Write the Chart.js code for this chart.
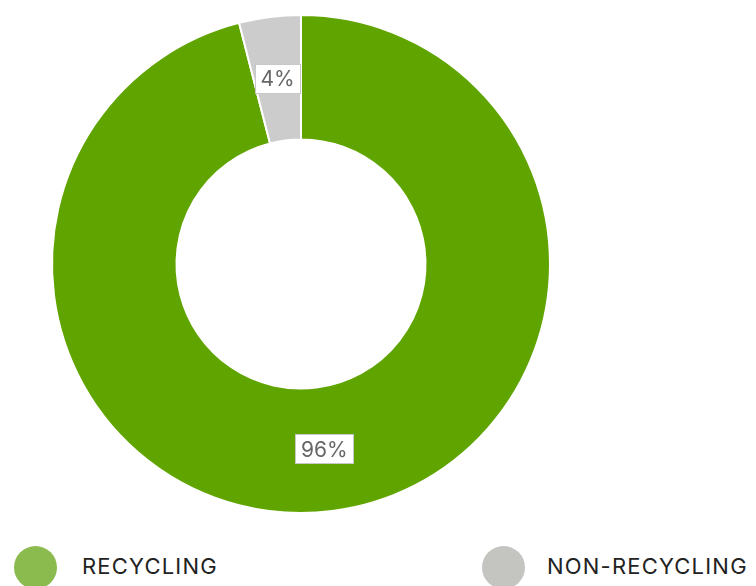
<!DOCTYPE html>
<html>
<head>
<meta charset="utf-8">
<script src="https://cdn.jsdelivr.net/npm/chart.js@4.4.0/dist/chart.umd.min.js"></script>
<style>
  html, body { margin: 0; padding: 0; background: #fff; overflow: hidden; }
  #wrap { position: relative; width: 756px; height: 586px; overflow: hidden; }
  #box { position: absolute; left: 0; top: 0; width: 602px; height: 528px; }
  .legend-dot { position: absolute; top: 546px; width: 43px; height: 43px; border-radius: 50%; }
  .legend-text { position: absolute; top: 553px; line-height: 26px; white-space: nowrap;
    font-family: Inter, "Open Sans", sans-serif; font-size: 22px; letter-spacing: 1.2px; color: #222; }
</style>
</head>
<body>
<div id="wrap">
  <div id="box"><canvas id="chart"></canvas></div>
  <div id="legend"></div>
</div>
<script>
const labels = ["RECYCLING", "NON-RECYCLING"];
const values = [96, 4];
const sliceColors = ["#60a400", "#cccccc"];
const legendColors = ["#8bbb4e", "#c4c5c0"];
const legendDotLeft = [14, 482];
const legendTextLeft = [82, 547];

// percent labels in white boxes, placed in the middle of each ring slice
const boxLabels = {
  id: "boxLabels",
  afterDatasetsDraw(chart) {
    const ctx = chart.ctx;
    const meta = chart.getDatasetMeta(0);
    const total = values.reduce((a, b) => a + b, 0);
    ctx.save();
    ctx.font = "21px Inter, 'Open Sans', sans-serif";
    ctx.textAlign = "center";
    ctx.textBaseline = "middle";
    meta.data.forEach((arc, i) => {
      const p = arc.tooltipPosition();
      const text = Math.round(values[i] / total * 100) + "%";
      const w = Math.round(ctx.measureText(text).width) + 12;
      const h = 30;
      const x = Math.round(p.x - w / 2), y = Math.round(p.y - h / 2);
      ctx.fillStyle = "#fff";
      ctx.fillRect(x, y, w, h);
      ctx.strokeStyle = "#c8c8c8";
      ctx.lineWidth = 1;
      ctx.strokeRect(x + 0.5, y + 0.5, w - 1, h - 1);
      ctx.fillStyle = "#666";
      ctx.fillText(text, p.x, p.y + 1);
    });
    ctx.restore();
  }
};

new Chart(document.getElementById("chart"), {
  type: "doughnut",
  data: {
    labels: labels,
    datasets: [{
      data: values,
      backgroundColor: sliceColors,
      borderColor: "#fff",
      borderWidth: 2,
      hoverOffset: 0
    }]
  },
  options: {
    responsive: true,
    maintainAspectRatio: false,
    animation: false,
    cutout: "50%",
    layout: { padding: { top: 14, bottom: 14 } },
    plugins: {
      legend: { display: false },
      tooltip: { enabled: false }
    }
  },
  plugins: [boxLabels]
});

// legend row under the chart
const legend = document.getElementById("legend");
labels.forEach((name, i) => {
  const dot = document.createElement("div");
  dot.className = "legend-dot";
  dot.style.left = legendDotLeft[i] + "px";
  dot.style.background = legendColors[i];
  legend.appendChild(dot);
  const txt = document.createElement("span");
  txt.className = "legend-text";
  txt.style.left = legendTextLeft[i] + "px";
  txt.textContent = name;
  legend.appendChild(txt);
});
</script>
</body>
</html>
